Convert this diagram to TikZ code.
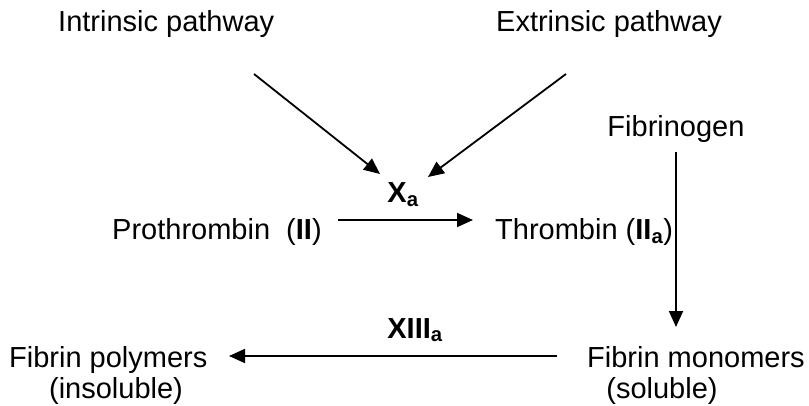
\documentclass[tikz,border=0pt]{standalone}
\usepackage{fontspec}
\setmainfont{Liberation Sans}
\usetikzlibrary{arrows.meta}
\begin{document}
\begin{tikzpicture}[x=1pt,y=-1pt,
  lbl/.style={inner sep=0pt,anchor=base,font=\fontsize{29}{34}\selectfont},
  conn/.style={line width=1.8pt,-{Triangle[length=16pt,width=14pt]}}]
\useasboundingbox (0,0) rectangle (809,406);
\node[lbl,anchor=base west] (intr) at (58,32) {Intrinsic pathway};
\node[lbl] (extr) at (609,32) {Extrinsic pathway};
\node[lbl] (fbg) at (676,137) {Fibrinogen};
\node[lbl] (xa) at (403,203) {\textbf{X\textsubscript{a}}};
\node[lbl,anchor=base west] (pro) at (112,240) {Prothrombin\ \ (\textbf{II})};
\node[lbl,anchor=base west] (thr) at (495,240) {Thrombin (\textbf{II\textsubscript{a}})};
\node[lbl] (x13) at (415,338) {\textbf{XIII\textsubscript{a}}};
\node[lbl,anchor=base west] (poly) at (9,367) {Fibrin polymers};
\node[lbl] (ins) at (116,398) {(insoluble)};
\node[lbl,anchor=base west] (mono) at (587,367) {Fibrin monomers};
\node[lbl] (sol) at (662,398) {(soluble)};
\coordinate (i1) at (254,74);
\coordinate (i2) at (380,174);
\coordinate (e1) at (566,74);
\coordinate (e2) at (428,177);
\coordinate (p1) at (338,220);
\coordinate (p2) at (473,220);
\coordinate (f1) at (676,152);
\coordinate (f2) at (676,327);
\coordinate (m1) at (557,356);
\coordinate (m2) at (229,356);
\draw[conn] (i1) -- (i2);
\draw[conn] (e1) -- (e2);
\draw[conn] (p1) -- (p2);
\draw[conn] (f1) -- (f2);
\draw[conn] (m1) -- (m2);
\end{tikzpicture}
\end{document}
